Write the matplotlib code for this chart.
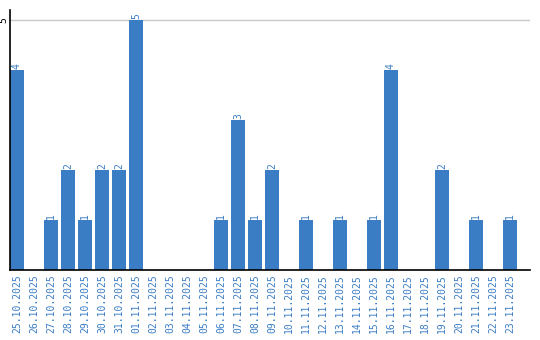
import matplotlib.pyplot as plt

dates = ['25.10.2025', '26.10.2025', '27.10.2025', '28.10.2025', '29.10.2025',
         '30.10.2025', '31.10.2025', '01.11.2025', '02.11.2025', '03.11.2025',
         '04.11.2025', '05.11.2025', '06.11.2025', '07.11.2025', '08.11.2025',
         '09.11.2025', '10.11.2025', '11.11.2025', '12.11.2025', '13.11.2025',
         '14.11.2025', '15.11.2025', '16.11.2025', '17.11.2025', '18.11.2025',
         '19.11.2025', '20.11.2025', '21.11.2025', '22.11.2025', '23.11.2025']
counts = [4, 0, 1, 2, 1, 2, 2, 5, 0, 0, 0, 0, 1, 3, 1, 2, 0, 1, 0, 1,
          0, 1, 4, 0, 0, 2, 0, 1, 0, 1]

blue = '#3a7dc4'

fig = plt.figure(figsize=(5.4, 3.4), dpi=100)
ax = fig.add_axes([10/540, 70/340, 520/540, 260/340])

x = list(range(len(dates)))
ax.bar(x, counts, width=0.82, color=blue, zorder=2)

for i, v in enumerate(counts):
    if v > 0:
        ax.annotate(str(v), (i, v), xytext=(0, 1), textcoords='offset points',
                    ha='center', va='bottom', rotation=90, color=blue,
                    fontsize=7, family='DejaVu Sans Mono')

ax.set_xlim(-0.41, 30.18)
ax.set_ylim(0, 5.2)
ax.set_yticks([5])
ax.set_yticklabels(['5'], rotation=90, va='center', fontsize=7,
                   family='DejaVu Sans Mono')
ax.yaxis.grid(True, color='#c8c8c8', linewidth=1, zorder=0)
ax.set_xticks(x)
ax.set_xticklabels(dates, rotation=90, color=blue, fontsize=7,
                   family='DejaVu Sans Mono')
ax.tick_params(length=0, pad=3)
ax.tick_params(axis='y', pad=1)

for s in ['top', 'right']:
    ax.spines[s].set_visible(False)
ax.spines['left'].set_linewidth(1.2)
ax.spines['bottom'].set_linewidth(1.2)

fig.savefig('out.png', dpi=100)
